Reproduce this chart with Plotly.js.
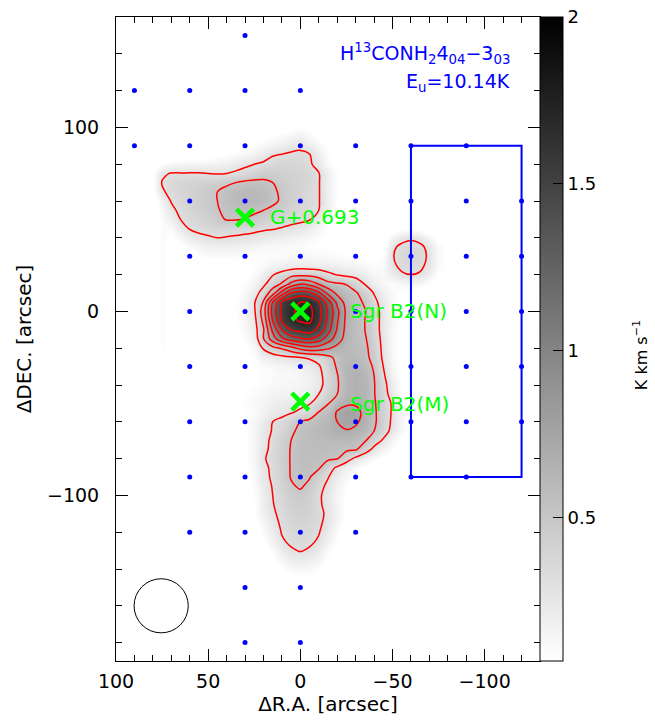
<!DOCTYPE html>
<html><head><meta charset="utf-8">
<script src="https://cdn.plot.ly/plotly-3.0.1.min.js"></script>
<style>html,body{margin:0;padding:0;background:#fff}#chart{width:655px;height:721px}</style>
</head><body><div id="chart"></div>
<script>
// Map grid: delta R.A. (columns) and delta DEC (rows), arcsec
const raOffsets = [80,75,70,65,60,55,50,45,40,35,30,25,20,15,10,5,0,-5,-10,-15,-20,-25,-30,-35,-40,-45,-50,-55,-60,-65,-70,-75];
const decOffsets = [100,95,90,85,80,75,70,65,60,55,50,45,40,35,30,25,20,15,10,5,0,-5,-10,-15,-20,-25,-30,-35,-40,-45,-50,-55,-60,-65,-70,-75,-80,-85,-90,-95,-100,-105,-110,-115,-120,-125,-130,-135,-140,-145,-150];
// Integrated intensity, K km/s (one row per DEC value)
const intensity = [
[0,0,0,0,0,0,0,0,0,0,0,0,0,0,0,.06,.08,.05,0,0,0,0,0,0,0,0,0,0,0,0,0,0],
[0,0,0,0,0,0,0,0,0,0,0,0,.05,.08,.12,.15,.18,.12,.05,0,0,0,0,0,0,0,0,0,0,0,0,0],
[0,0,0,0,0,0,0,0,0,.05,.07,.09,.12,.16,.2,.24,.26,.22,.12,.05,0,0,0,0,0,0,0,0,0,0,0,0],
[0,0,0,0,0,0,0,.06,.08,.1,.13,.17,.22,.29,.31,.33,.34,.31,.2,.08,0,0,0,0,0,0,0,0,0,0,0,0],
[0,.08,.12,.13,.14,.15,.15,.16,.18,.22,.26,.3,.33,.36,.38,.38,.37,.33,.22,.1,.04,0,0,0,0,0,0,0,0,0,0,0],
[.07,.27,.31,.31,.31,.31,.3,.29,.3,.33,.37,.4,.44,.44,.42,.41,.4,.37,.31,.18,.08,0,0,0,0,0,0,0,0,0,0,0],
[.07,.31,.36,.38,.4,.41,.42,.44,.47,.5,.53,.54,.53,.5,.46,.42,.4,.36,.31,.18,.07,0,0,0,0,0,0,0,0,0,0,0],
[.05,.28,.34,.38,.41,.44,.47,.5,.55,.58,.6,.6,.58,.53,.47,.42,.39,.35,.31,.18,.07,0,0,0,0,0,0,0,0,0,0,0],
[0,.18,.31,.36,.4,.44,.47,.5,.55,.59,.61,.61,.58,.53,.48,.42,.38,.35,.31,.18,.07,0,0,0,0,0,0,0,0,0,0,0],
[0,.12,.26,.34,.38,.42,.45,.49,.53,.55,.55,.53,.5,.47,.43,.39,.36,.33,.3,.17,.06,0,0,0,0,0,0,0,0,0,0,0],
[0,.1,.18,.3,.35,.38,.42,.46,.51,.51,.49,.46,.43,.4,.37,.34,.33,.31,.2,.1,.04,0,0,0,0,0,0,0,0,0,0,0],
[0,.1,.1,.22,.31,.34,.36,.37,.37,.36,.35,.34,.32,.31,.29,.27,.25,.2,.13,.06,0,0,0,0,0,0,0,.06,.08,.06,0,0],
[0,.1,.06,.12,.2,.26,.28,.3,.29,.28,.27,.25,.23,.21,.19,.17,.15,.12,.08,.03,0,0,0,0,0,0,.15,.24,.28,.24,.14,.05],
[0,.1,0,.05,.1,.15,.18,.19,.19,.18,.17,.15,.13,.12,.11,.1,.1,.08,.07,.06,.05,.04,.03,0,0,0,.27,.34,.35,.34,.25,.1],
[0,.1,0,0,0,.08,.1,.11,.11,.1,.09,.09,.09,.09,.1,.12,.12,.12,.11,.1,.09,.08,.07,.05,.04,.08,.29,.36,.38,.36,.27,.11],
[0,.1,0,0,0,0,0,0,0,.03,.05,.08,.11,.15,.18,.2,.21,.2,.2,.19,.18,.16,.15,.12,.09,.1,.27,.34,.36,.34,.25,.1],
[0,.1,0,0,0,0,0,0,0,0,.04,.1,.2,.29,.36,.43,.45,.44,.41,.34,.29,.26,.24,.19,.13,.12,.2,.28,.3,.28,.18,.06],
[0,.1,0,0,0,0,0,0,0,.05,.09,.15,.26,.4,.52,.75,.88,.82,.68,.55,.52,.49,.4,.29,.2,.12,.09,.13,.15,.13,.08,0],
[0,.1,0,0,0,0,0,0,.04,.06,.12,.22,.38,.6,1.0,1.3,1.4,1.35,1.15,.85,.65,.57,.52,.42,.29,.18,.1,.06,.05,0,0,0],
[0,.1,0,0,0,0,0,0,.04,.08,.15,.28,.52,1.1,1.52,1.65,1.7,1.68,1.52,1.2,.85,.62,.55,.48,.35,.22,.12,.05,0,0,0,0],
[0,.1,0,0,0,0,0,0,0,.08,.15,.27,.6,1.18,1.55,1.68,1.73,1.76,1.56,1.28,.95,.66,.57,.51,.38,.24,.13,.05,0,0,0,0],
[0,.1,0,0,0,0,0,0,0,.07,.14,.24,.55,1.1,1.52,1.66,1.72,1.74,1.55,1.25,.92,.65,.56,.5,.38,.24,.13,.05,0,0,0,0],
[0,.1,0,0,0,0,0,0,0,.06,.12,.22,.48,.95,1.3,1.5,1.56,1.6,1.45,1.18,.88,.64,.56,.5,.38,.24,.12,.05,0,0,0,0],
[0,.1,0,0,0,0,0,0,0,.05,.1,.18,.49,.8,1.05,1.2,1.27,1.3,1.2,1.0,.8,.62,.56,.52,.4,.25,.12,.05,0,0,0,0],
[0,.09,0,0,0,0,0,0,0,0,.07,.12,.32,.44,.52,.62,.75,.82,.8,.72,.64,.6,.57,.54,.42,.26,.12,.05,0,0,0,0],
[0,.08,0,0,0,0,0,0,0,0,.05,.08,.18,.22,.25,.28,.3,.32,.36,.45,.55,.6,.6,.55,.44,.27,.12,.05,0,0,0,0],
[0,.07,0,0,0,0,0,0,0,.03,.06,.08,.1,.12,.14,.15,.18,.22,.28,.4,.52,.62,.63,.58,.48,.3,.14,.05,0,0,0,0],
[0,0,0,0,0,0,0,0,0,0,.05,.07,.09,.1,.12,.12,.14,.18,.25,.38,.49,.63,.66,.62,.5,.33,.16,.06,0,0,0,0],
[0,0,0,0,0,0,0,0,0,0,.06,.08,.1,.12,.13,.14,.15,.18,.24,.38,.48,.62,.66,.63,.51,.36,.2,.07,0,0,0,0],
[0,0,0,0,0,0,0,0,0,0,.08,.1,.12,.15,.16,.16,.17,.2,.3,.42,.5,.63,.66,.62,.51,.38,.22,.08,0,0,0,0],
[0,0,0,0,0,0,0,0,0,0,.1,.12,.15,.2,.22,.24,.26,.29,.4,.49,.62,.68,.68,.63,.52,.4,.28,.12,0,0,0,0],
[0,0,0,0,0,0,0,0,0,0,.08,.1,.17,.22,.25,.29,.33,.37,.51,.58,.72,.76,.75,.66,.53,.4,.28,.14,.05,0,0,0],
[0,0,0,0,0,0,0,0,0,.04,.08,.14,.22,.3,.35,.42,.5,.55,.58,.62,.7,.75,.73,.64,.53,.4,.27,.14,.05,0,0,0],
[0,0,0,0,0,0,0,0,0,0,.07,.14,.24,.31,.38,.47,.54,.57,.6,.63,.67,.69,.66,.6,.5,.38,.25,.12,.04,0,0,0],
[0,0,0,0,0,0,0,0,0,0,.07,.14,.24,.34,.42,.5,.55,.57,.58,.59,.6,.6,.57,.52,.4,.28,.15,.06,0,0,0,0],
[0,0,0,0,0,0,0,0,0,0,.07,.14,.26,.34,.43,.51,.56,.57,.57,.56,.55,.53,.52,.4,.25,.15,.08,0,0,0,0,0],
[0,0,0,0,0,0,0,0,0,0,.06,.14,.28,.36,.44,.51,.55,.56,.55,.53,.51,.38,.26,.17,.1,.05,0,0,0,0,0,0],
[0,0,0,0,0,0,0,0,0,0,.05,.12,.25,.34,.43,.51,.55,.55,.52,.38,.27,.18,.12,.06,0,0,0,0,0,0,0,0],
[0,0,0,0,0,0,0,0,0,0,.05,.12,.24,.33,.42,.51,.54,.51,.4,.31,.2,.12,.06,0,0,0,0,0,0,0,0,0],
[0,0,0,0,0,0,0,0,0,0,.04,.1,.22,.31,.4,.48,.52,.46,.36,.26,.16,.08,0,0,0,0,0,0,0,0,0,0],
[0,0,0,0,0,0,0,0,0,0,0,.08,.2,.3,.38,.44,.46,.42,.33,.23,.14,.06,0,0,0,0,0,0,0,0,0,0],
[0,0,0,0,0,0,0,0,0,0,0,.07,.2,.29,.37,.42,.44,.41,.33,.24,.14,.06,0,0,0,0,0,0,0,0,0,0],
[0,0,0,0,0,0,0,0,0,0,0,.06,.18,.27,.35,.4,.42,.4,.35,.26,.15,.06,0,0,0,0,0,0,0,0,0,0],
[0,0,0,0,0,0,0,0,0,0,0,.05,.14,.24,.33,.38,.4,.38,.33,.25,.13,.05,0,0,0,0,0,0,0,0,0,0],
[0,0,0,0,0,0,0,0,0,0,0,0,.1,.2,.31,.36,.37,.36,.31,.21,.1,0,0,0,0,0,0,0,0,0,0,0],
[0,0,0,0,0,0,0,0,0,0,0,0,.07,.15,.28,.33,.35,.33,.28,.16,.06,0,0,0,0,0,0,0,0,0,0,0],
[0,0,0,0,0,0,0,0,0,0,0,0,0,.1,.21,.28,.31,.28,.21,.1,0,0,0,0,0,0,0,0,0,0,0,0],
[0,0,0,0,0,0,0,0,0,0,0,0,0,.06,.14,.2,.22,.2,.14,.06,0,0,0,0,0,0,0,0,0,0,0,0],
[0,0,0,0,0,0,0,0,0,0,0,0,0,0,.08,.12,.13,.12,.08,0,0,0,0,0,0,0,0,0,0,0,0,0],
[0,0,0,0,0,0,0,0,0,0,0,0,0,0,0,.05,.06,.05,0,0,0,0,0,0,0,0,0,0,0,0,0,0],
[0,0,0,0,0,0,0,0,0,0,0,0,0,0,0,0,0,0,0,0,0,0,0,0,0,0,0,0,0,0,0,0]
];
// Contour levels (K km/s)
const contourStart = 0.3, contourEnd = 1.7, contourStep = 0.2;
// Observed positions (blue dots)
const dotRA  = [30, 90,60,30,0, 90,60,30,0,-30,-60,-90, 60,30,0,-30,-60,-90,-120, 60,30,0,-30,-60,-90,-120, 60,30,0,-30,-60,-90,-120, 60,30,0,-30,-60,-90,-120, 60,30,0,-30,-60,-90,-120, 60,30,0,-30,-60,-90, 60,30,0,-30, 30,0, 30,0];
const dotDEC = [150, 120,120,120,120, 90,90,90,90,90,90,90, 60,60,60,60,60,60,60, 30,30,30,30,30,30,30, 0,0,0,0,0,0,0, -30,-30,-30,-30,-30,-30,-30, -60,-60,-60,-60,-60,-60,-60, -90,-90,-90,-90,-90,-90, -120,-120,-120,-120, -150,-150, -180,-180];
// Sources
const sourceNames = ['G+0.693','Sgr B2(N)','Sgr B2(M)'];
const sourceRA = [30, 0, 0];
const sourceDEC = [51, 0, -49];
const labelRA = [17.5, -26, -26];
const labelDEC = [51.5, 0, -50.5];
// Off-position box
const boxRA = [-60,-120,-120,-60,-60];
const boxDEC = [90,90,-90,-90,90];
// Beam
const beamRA = 75.5, beamDEC = -160, beamRadius = 14.7;
// Colorbar ticks
const cbTickVals = [0.5, 1, 1.5, 2];
const cbTickText = ['0.5','1','1.5','2'];
const titleLine1 = 'H<sup>13</sup>CONH<sub>2</sub>4<sub>04</sub>\u22123<sub>03</sub>';
const titleLine2 = 'E<sub>u</sub>=10.14K';
const unitLabel = 'K km s<sup>\u22121</sup>';

const FONT = 'DejaVu Sans, sans-serif';
const traces = [
  {type:'heatmap', x:raOffsets, y:decOffsets, z:intensity, zsmooth:'best',
   zmin:0.07, zmax:2, colorscale:[[0,'#ffffff'],[1,'#000000']], hoverinfo:'skip',
   colorbar:{x:1, xanchor:'left', xpad:0, y:0.5, yanchor:'middle', len:1, lenmode:'fraction', ypad:0,
     thickness:23, outlinewidth:1, outlinecolor:'#000', tickvals:cbTickVals, ticktext:cbTickText,
     ticks:'inside', ticklen:10, tickcolor:'#000', tickfont:{family:FONT, size:18, color:'#000'}}},
  {type:'contour', x:raOffsets, y:decOffsets, z:intensity, showscale:false, hoverinfo:'skip',
   contours:{coloring:'none', start:contourStart, end:contourEnd, size:contourStep},
   line:{color:'#ff0000', width:1.5, smoothing:1}},
  {type:'scatter', mode:'lines', x:boxRA, y:boxDEC, line:{color:'#0000ff', width:2}, hoverinfo:'skip'},
  {type:'scatter', mode:'markers', x:dotRA, y:dotDEC, marker:{color:'#0000ff', size:5}, hoverinfo:'skip'},
  {type:'scatter', mode:'markers', x:sourceRA, y:sourceDEC,
   marker:{symbol:'x-thin-open', size:17, color:'#00ff00', line:{color:'#00ff00', width:4.5}}, hoverinfo:'skip'}
];
const annotations = sourceNames.map((n,i)=>({x:labelRA[i], y:labelDEC[i], xref:'x', yref:'y', text:n,
  showarrow:false, xanchor:'left', yanchor:'middle', font:{family:FONT, size:20, color:'#00ff00'}}));
annotations.push({x:-115, y:140, xref:'x', yref:'y', text:titleLine1, showarrow:false, xanchor:'right', yanchor:'middle',
  font:{family:FONT, size:19, color:'#0000ff'}});
annotations.push({x:-115, y:124.5, xref:'x', yref:'y', text:titleLine2, showarrow:false, xanchor:'right', yanchor:'middle',
  font:{family:FONT, size:19, color:'#0000ff'}});
annotations.push({x:1.236, y:0.475, xref:'paper', yref:'paper', text:unitLabel, showarrow:false, textangle:-90,
  xanchor:'center', yanchor:'middle', font:{family:FONT, size:16, color:'#000'}});
const axisCommon = {showgrid:false, zeroline:false, showline:true, linecolor:'#000', linewidth:1, mirror:'ticks',
  ticks:'inside', ticklen:12, tickcolor:'#000', tickwidth:1, tickfont:{family:FONT, size:19, color:'#000'}};
const layout = {
  width:655, height:721, margin:{l:116, r:115, t:17, b:60}, paper_bgcolor:'#fff', plot_bgcolor:'#fff',
  showlegend:false, font:{family:FONT},
  xaxis:Object.assign({}, axisCommon, {range:[100,-130], tickvals:[100,50,0,-50,-100], ticklabelstandoff:3,
    minor:{dtick:10, tick0:0, ticks:'inside', ticklen:6, tickcolor:'#000'},
    title:{text:'\u0394R.A. [arcsec]', font:{family:FONT, size:20, color:'#000'}, standoff:2}}),
  yaxis:Object.assign({}, axisCommon, {range:[-190,160], tickvals:[100,0,-100], ticklabelstandoff:12,
    minor:{dtick:20, tick0:0, ticks:'inside', ticklen:6, tickcolor:'#000'},
    title:{text:'\u0394DEC. [arcsec]', font:{family:FONT, size:20, color:'#000'}, standoff:10}}),
  shapes:[{type:'circle', xref:'x', yref:'y', x0:beamRA-beamRadius, x1:beamRA+beamRadius,
    y0:beamDEC-beamRadius, y1:beamDEC+beamRadius, line:{color:'#000', width:1}}],
  annotations:annotations
};
Plotly.newPlot('chart', traces, layout, {staticPlot:true});
</script></body></html>
